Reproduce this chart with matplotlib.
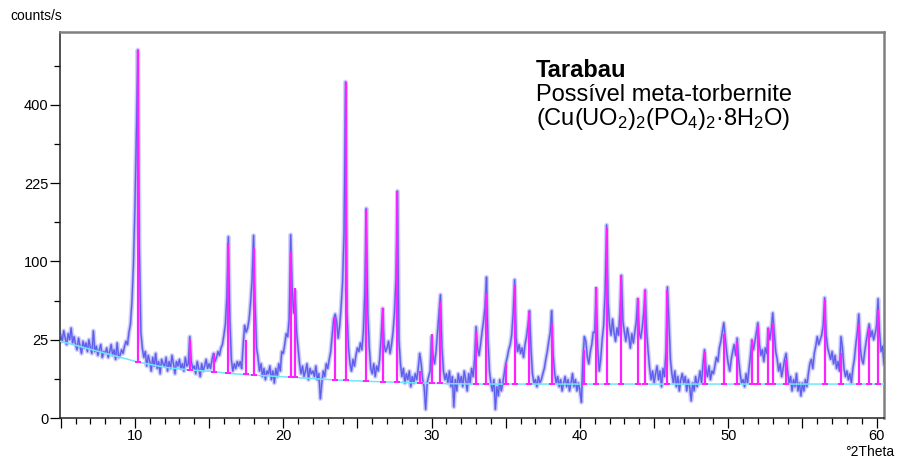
import numpy as np
import matplotlib
matplotlib.use("Agg")
import matplotlib.pyplot as plt
from matplotlib.ticker import FixedLocator, MultipleLocator, FuncFormatter

plt.rcParams['font.family'] = ['Liberation Sans', 'DejaVu Sans']
plt.rcParams['mathtext.fontset'] = 'custom'
plt.rcParams['mathtext.rm'] = 'Liberation Sans'
plt.rcParams['mathtext.it'] = 'Liberation Sans:italic'
plt.rcParams['mathtext.bf'] = 'Liberation Sans:bold'

# ---- data: step scan 5.0 .. 60.5 °2Theta, step 0.1 ----
two_theta_start = 5.0
two_theta_step = 0.1
intensity = [
    28, 24, 31, 26, 22, 29, 25, 33, 23, 27,
    22, 19, 26, 21, 17, 24, 20, 23, 18, 25,
    20, 17, 31, 18, 21, 16, 19, 22, 15, 18,
    17, 20, 15, 18, 22, 16, 19, 14, 23, 15,
    16, 19, 17, 21, 24, 22, 30, 36, 55, 95,
    180, 330, 553, 120, 30, 20, 15, 18, 11, 16,
    13, 9, 15, 11, 17, 10, 13, 8, 14, 12,
    11, 15, 9, 13, 10, 16, 12, 8, 13, 11,
    14, 10, 12, 9, 15, 11, 12, 27, 13, 10,
    11, 8, 13, 10, 7, 12, 9, 11, 14, 10,
    12, 10, 14, 17, 13, 15, 18, 16, 20, 22,
    28, 36, 60, 134, 40, 14, 9, 12, 10, 13,
    11, 13, 10, 22, 35, 30, 33, 40, 55, 78,
    136, 55, 20, 15, 9, 12, 7, 10, 6, 9,
    8, 11, 6, 9, 5, 10, 7, 12, 9, 18,
    17, 22, 29, 27, 40, 137, 70, 45, 66, 30,
    20, 12, 8, 11, 7, 9, 12, 6, 10, 8,
    9, 7, 11, 6, 8, 1.5, 5, 9, 7, 12,
    10, 14, 18, 28, 40, 44, 38, 26, 34, 50,
    75, 140, 461, 45, 20, 12, 9, 14, 11, 16,
    20, 18, 23, 19, 30, 65, 179, 45, 20, 10,
    8, 12, 7, 11, 9, 14, 27, 49, 22, 18,
    20, 24, 17, 22, 30, 45, 80, 210, 25, 12,
    7, 10, 5, 8, 6, 9, 4, 7, 5, 8,
    6, 10, 17, 12, 6, 4, 0.3, 5, 7, 9,
    27, 16, 12, 18, 30, 45, 62, 20, 9, 6,
    8, 5, 9, 4, 7, 0.5, 6, 3, 8, 5,
    7, 4, 9, 6, 3, 8, 5, 10, 7, 14,
    34, 20, 16, 22, 30, 38, 50, 81, 25, 9,
    5, 3, 6, 0.3, 4, 2, 6, 3, 5, 8,
    12, 15, 19, 22, 28, 45, 78, 26, 18, 22,
    17, 20, 15, 22, 27, 35, 47, 20, 8, 5,
    6, 4, 7, 5, 6, 8, 10, 14, 18, 24,
    30, 47, 16, 8, 5, 7, 4, 6, 3, 5,
    7, 4, 6, 3, 5, 8, 4, 6, 3, 5,
    3, 1, 14, 27, 24, 15, 12, 18, 22, 30,
    30, 69, 20, 9, 14, 25, 35, 65, 152, 55,
    35, 28, 40, 30, 24, 33, 28, 45, 83, 38,
    30, 24, 33, 27, 20, 29, 23, 30, 38, 58,
    30, 26, 33, 45, 67, 30, 18, 10, 6, 9,
    5, 8, 11, 6, 9, 4, 10, 7, 18, 70,
    38, 14, 8, 5, 9, 4, 7, 3, 6, 8,
    5, 7, 3, 6, 4, 1.2, 5, 3, 7, 4,
    6, 9, 5, 12, 19, 10, 7, 11, 6, 9,
    8, 11, 15, 13, 20, 24, 30, 37, 26, 17,
    12, 9, 14, 18, 22, 16, 26, 14, 8, 5,
    6, 4, 8, 5, 10, 16, 25, 19, 24, 30,
    37, 22, 16, 19, 13, 20, 17, 33, 25, 32,
    45, 30, 18, 14, 9, 12, 7, 10, 14, 17,
    9, 5, 7, 3, 6, 4, 8, 3, 5, 2,
    5, 3, 6, 4, 8, 12, 14, 10, 17, 21,
    27, 22, 25, 28, 35, 59, 28, 20, 17, 14,
    18, 12, 16, 10, 13, 9, 27, 20, 10, 7,
    9, 6, 8, 5, 10, 14, 22, 30, 44, 20,
    14, 12, 18, 24, 30, 36, 27, 31, 25, 29,
    35, 58, 30, 18, 21, 12,
]

# background curve
bg_x = [5.0, 10.2, 12.0, 13.7, 15.3, 16.3, 18.0, 20.5, 23.5, 25.6, 27.7, 30.0, 33.0, 36.0, 60.5]
bg_y = [24.0, 12.8, 10.5, 9.4, 8.8, 8.1, 7.5, 6.8, 5.9, 5.5, 5.2, 4.9, 4.7, 4.7, 4.7]

# peak sticks
stick_pos = [10.2, 13.7, 15.3, 16.3, 17.5, 18.0, 20.5, 20.8, 23.5, 24.2, 25.6, 26.7,
             27.7, 29.2, 30.0, 30.6, 33.0, 33.7, 35.0, 35.6, 36.6, 38.1, 40.3, 41.1,
             41.8, 42.8, 43.9, 44.4, 45.9, 48.4, 49.7, 50.6, 51.6, 52.0, 52.7, 53.0,
             53.9, 56.5, 57.6, 58.8, 59.5, 60.1]
stick_top = [553, 25, 17, 125, 25, 118, 114, 69, 42, 461, 178, 49,
             210, 9, 28.6, 55, 31, 64, 12.3, 72, 46.7, 36, 19, 69.5,
             148, 83.5, 58.4, 67, 67, 18, 29, 24, 24.8, 35, 32.8, 37,
             13.7, 56.8, 17, 36, 32.8, 47.6]
stick_base = [12.8, 9.4, 8.8, 8.1, 7.9, 7.5, 6.8, 6.8, 5.9, 5.8, 5.5, 5.4,
              5.2, 5.0, 4.9, 4.9, 4.7, 4.7, 4.7, 4.7, 4.7, 4.7, 4.7, 4.7,
              4.7, 4.7, 4.7, 4.7, 4.7, 4.7, 4.7, 4.7, 4.7, 4.7, 4.7, 4.7,
              4.7, 4.7, 4.7, 4.7, 4.7, 4.7]

y_major = [0, 25, 100, 225, 400]
y_minor = [6.25, 56.25, 156.25, 306.25, 506.25]

two_theta = two_theta_start + two_theta_step * np.arange(len(intensity))

W, H = 899, 459
fig = plt.figure(figsize=(W / 100, H / 100), dpi=100)
ax = fig.add_axes([60 / W, 1 - 418 / H, 824 / W, 386 / H])
ax.set_yscale('function', functions=(lambda v: np.sqrt(np.clip(v, 0, None)),
                                      lambda v: np.square(v)))

ax.plot(two_theta, intensity, color='#d4d4fb', lw=3.4, zorder=2, solid_joinstyle='round')
ax.plot(two_theta, intensity, color='#9a9af5', lw=1.6, zorder=2.5, solid_joinstyle='round')
ax.plot(two_theta, intensity, color='#5c5cec', lw=0.8, zorder=3)
ax.plot(bg_x, bg_y, color='#6fe6f7', lw=1.1, zorder=4)
ax.vlines(stick_pos, stick_base, stick_top, color='#ff20ff', lw=1.6, zorder=5)
ax.plot(stick_pos, stick_base, ls='none', marker='_', ms=5, mew=1.4, color='#ff20ff', zorder=5)

ax.set_xlim(4.95, 60.5)
ax.set_ylim(0, 608)

ax.yaxis.set_major_locator(FixedLocator(y_major))
ax.yaxis.set_minor_locator(FixedLocator(y_minor))
ax.yaxis.set_major_formatter(FuncFormatter(lambda v, p: f"{int(round(v))}"))
ax.xaxis.set_major_locator(MultipleLocator(5))
ax.xaxis.set_minor_locator(MultipleLocator(1))
ax.xaxis.set_major_formatter(FuncFormatter(lambda v, p: f"{int(round(v))}" if round(v) % 10 == 0 else ""))

ax.tick_params(axis='both', which='major', direction='out', length=7, width=0.9,
               labelsize=10.5, colors='black', pad=1.2)
ax.tick_params(axis='both', which='minor', direction='out', length=4.5, width=0.9, colors='black')

for s in ['left', 'bottom']:
    ax.spines[s].set_color('#222222')
    ax.spines[s].set_linewidth(1.1)
for s in ['top', 'right']:
    ax.spines[s].set_color('#808080')
    ax.spines[s].set_linewidth(1.8)

fig.text(10 / W, 1 - 16 / H, 'counts/s', ha='left', va='center', fontsize=10)
fig.text(894 / W, 1 - 452 / H, '°2Theta', ha='right', va='center', fontsize=10)

fig.text(536 / W, 1 - 77 / H, 'Tarabau', fontsize=17, fontweight='bold', va='baseline', ha='left')
fig.text(536 / W, 1 - 101 / H, 'Possível meta-torbernite', fontsize=17, va='baseline', ha='left')
fig.text(536 / W, 1 - 125 / H, r'(Cu(UO$_2$)$_2$(PO$_4$)$_2$·8H$_2$O)', fontsize=17,
         va='baseline', ha='left')

fig.savefig('out.png', dpi=100)
